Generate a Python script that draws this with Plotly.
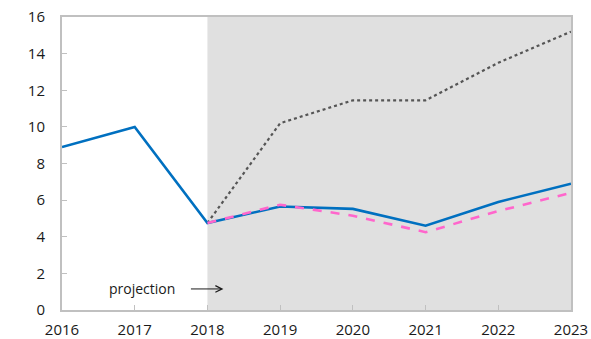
import plotly.graph_objects as go

years = [2016, 2017, 2018, 2019, 2020, 2021, 2022, 2023]
baseline = [8.9, 10.0, 4.75, 5.65, 5.52, 4.6, 5.9, 6.9]
proj_years = [2018, 2019, 2020, 2021, 2022, 2023]
dashed = [4.75, 5.75, 5.15, 4.25, 5.4, 6.4]
dotted = [4.75, 10.2, 11.45, 11.45, 13.5, 15.2]
y_ticks = [0, 2, 4, 6, 8, 10, 12, 14, 16]
shade_start, shade_end = 2018, 2023

FONT = "Open Sans"
AXIS = "#c0c0c0"

fig = go.Figure()
fig.add_shape(type="rect", xref="x", yref="y", x0=shade_start, x1=shade_end,
              y0=0, y1=16, fillcolor="#e0e0e0", line_width=0, layer="below")

fig.add_trace(go.Scatter(x=proj_years, y=dotted, mode="lines",
                         line=dict(color="#555555", width=2.2, dash="dot"),
                         showlegend=False))
fig.add_trace(go.Scatter(x=years, y=baseline, mode="lines",
                         line=dict(color="#0070C0", width=2.6),
                         showlegend=False))
fig.add_trace(go.Scatter(x=proj_years, y=dashed, mode="lines",
                         line=dict(color="#FF66CC", width=2.6, dash="dash"),
                         showlegend=False))

fig.add_annotation(x=2017.1, y=1.15, xref="x", yref="y", text="projection",
                   showarrow=False, font=dict(family=FONT, size=14, color="#1a1a1a"))
fig.add_annotation(x=2018.22, y=1.15, xref="x", yref="y", text="",
                   showarrow=True, ax=-34, ay=0, arrowhead=5, arrowsize=1.3,
                   arrowwidth=1, arrowcolor="#1a1a1a")

fig.update_layout(
    width=591, height=339,
    margin=dict(l=62, r=20, t=17, b=29, autoexpand=False),
    paper_bgcolor="white", plot_bgcolor="white",
    font=dict(family=FONT, size=15, color="#1a1a1a"),
    xaxis=dict(range=[2016, 2023], tickmode="array", tickvals=years,
               ticktext=[str(y) for y in years], showgrid=False, zeroline=False,
               showline=True, linecolor=AXIS, linewidth=2, mirror=True,
               ticks="inside", ticklen=5, tickcolor=AXIS, tickwidth=1,
               ticklabelstandoff=5, automargin=False),
    yaxis=dict(range=[0, 16], tickmode="array", tickvals=y_ticks,
               showgrid=False, zeroline=False,
               showline=True, linecolor=AXIS, linewidth=2, mirror=True,
               ticks="inside", ticklen=5, tickcolor=AXIS, tickwidth=1,
               ticklabelstandoff=12, automargin=False),
)

fig.write_html("out.html", config={"displayModeBar": False},
               post_script="document.body.style.margin='0';document.body.style.overflow='hidden';")
